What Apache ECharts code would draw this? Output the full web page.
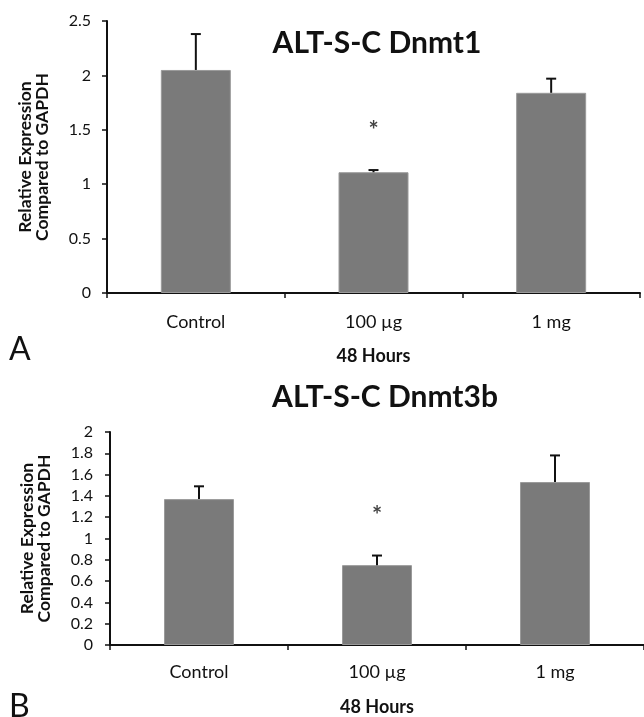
<!DOCTYPE html>
<html>
<head>
<meta charset="utf-8">
<script src="https://cdn.jsdelivr.net/npm/echarts@6/dist/echarts.min.js"></script>
<style>html,body{margin:0;padding:0;background:#fff}#c{width:644px;height:717px}</style>
</head>
<body>
<div id="c"></div>
<script>
const categories = ['Control', '100 \u00b5g', '1 mg'];
const dnmt1Values = [2.05, 1.11, 1.84];
const dnmt1ErrTop = [2.38, 1.13, 1.97];
const dnmt1Star = [null, 1.53, null];
const dnmt1Ticks = { min: 0, max: 2.5, interval: 0.5 };
const dnmt3bValues = [1.37, 0.75, 1.53];
const dnmt3bErrTop = [1.49, 0.84, 1.78];
const dnmt3bStar = [null, 1.26, null];
const dnmt3bTicks = { min: 0, max: 2, interval: 0.2 };
const titles = ['ALT-S-C Dnmt1', 'ALT-S-C Dnmt3b'];
const xName = '48 Hours';
const yName = 'Relative Expression\nCompared to GAPDH';
const panelLabels = ['A', 'B'];

const FONT = 'Lato';
const BAR = '#7a7a7a';
const INK = '#111';

function errSeries(idx, vals, tops) {
  return {
    type: 'custom', xAxisIndex: idx, yAxisIndex: idx, z: 5,
    data: vals.map((v, i) => [i, v, tops[i]]),
    renderItem: function (params, api) {
      const base = api.coord([api.value(0), api.value(1)]);
      const top = api.coord([api.value(0), api.value(2)]);
      return {
        type: 'group',
        children: [
          { type: 'line', shape: { x1: base[0], y1: base[1], x2: top[0], y2: top[1] }, style: { stroke: INK, lineWidth: 2 } },
          { type: 'line', shape: { x1: top[0] - 5, y1: top[1], x2: top[0] + 5, y2: top[1] }, style: { stroke: INK, lineWidth: 2 } }
        ]
      };
    }
  };
}
function starSeries(idx, stars) {
  return {
    type: 'scatter', xAxisIndex: idx, yAxisIndex: idx, symbolSize: 0, silent: true,
    data: stars.map((v, i) => v == null ? null : [i, v]).filter(d => d),
    label: { show: true, position: 'inside', formatter: '*', fontFamily: FONT, fontSize: 24, fontWeight: 'bold', color: INK, offset: [0, 5] }
  };
}
function xAxis(idx) {
  return {
    type: 'category', gridIndex: idx, data: categories,
    name: xName, nameLocation: 'middle', nameGap: idx === 0 ? 54 : 53,
    nameTextStyle: { fontFamily: FONT, fontSize: 18, fontWeight: 'bold', color: INK },
    axisLine: { lineStyle: { color: INK, width: 2 } },
    axisTick: { show: true, length: 5, lineStyle: { color: INK, width: 1.5 } },
    axisLabel: { fontFamily: FONT, fontSize: 18, color: INK, margin: idx === 0 ? 20 : 18 }
  };
}
function yAxis(idx, t) {
  return {
    type: 'value', gridIndex: idx, min: t.min, max: t.max, interval: t.interval,
    name: yName, nameLocation: 'middle', nameGap: idx === 0 ? 56 : 57, nameRotate: 90,
    nameTextStyle: { fontFamily: FONT, fontSize: 17.5, fontWeight: 'bold', color: INK, lineHeight: 17 },
    axisLine: { show: true, lineStyle: { color: INK, width: 2 } },
    axisTick: { show: true, length: 5, lineStyle: { color: INK, width: 1.5 } },
    axisLabel: { fontFamily: FONT, fontSize: 16, color: INK, margin: idx === 0 ? 16 : 17 },
    splitLine: { show: false }
  };
}
function barSeries(idx, vals) {
  return {
    type: 'bar', xAxisIndex: idx, yAxisIndex: idx, data: vals, barWidth: 70,
    itemStyle: { color: BAR, borderColor: '#9a9a9a', borderWidth: 1 }
  };
}

const chart = echarts.init(document.getElementById('c'), null, { renderer: 'canvas' });
chart.setOption({
  animation: false,
  backgroundColor: '#fff',
  title: [
    { text: titles[0], left: 372, top: 23, textAlign: 'center', textStyle: { fontFamily: FONT, fontSize: 30, fontWeight: 'bold', color: INK } },
    { text: titles[1], left: 380, top: 377, textAlign: 'center', textStyle: { fontFamily: FONT, fontSize: 30, fontWeight: 'bold', color: INK } }
  ],
  graphic: [
    { type: 'text', left: 9, top: 334, style: { text: panelLabels[0], font: '32px ' + FONT, fill: INK } },
    { type: 'text', left: 9, top: 691, style: { text: panelLabels[1], font: '32px ' + FONT, fill: INK } }
  ],
  grid: [
    { left: 107, top: 21, width: 533, height: 272 },
    { left: 110, top: 432, width: 534, height: 214 }
  ],
  xAxis: [xAxis(0), xAxis(1)],
  yAxis: [yAxis(0, dnmt1Ticks), yAxis(1, dnmt3bTicks)],
  series: [
    barSeries(0, dnmt1Values), errSeries(0, dnmt1Values, dnmt1ErrTop), starSeries(0, dnmt1Star),
    barSeries(1, dnmt3bValues), errSeries(1, dnmt3bValues, dnmt3bErrTop), starSeries(1, dnmt3bStar)
  ]
});
</script>
</body>
</html>
